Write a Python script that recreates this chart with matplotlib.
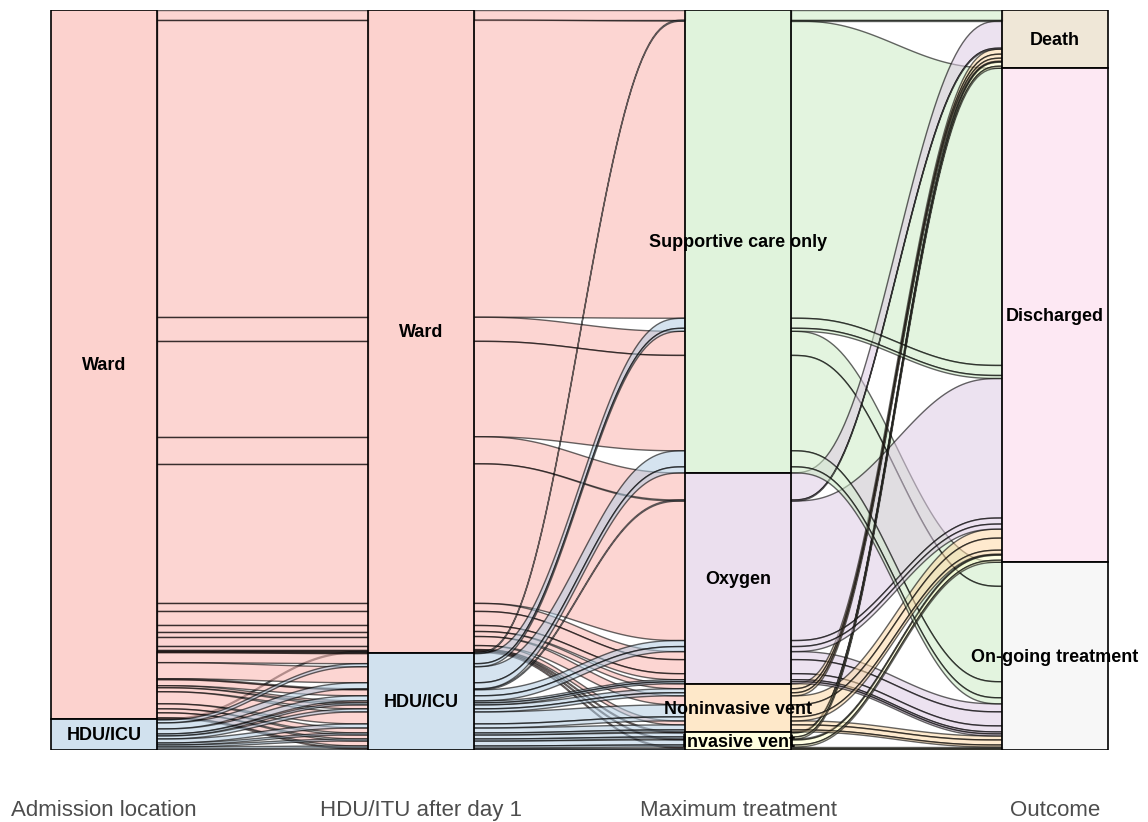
import matplotlib.pyplot as plt
from matplotlib.patches import Polygon, Rectangle
from matplotlib.colors import to_rgba
import numpy as np

plt.rcParams['font.family'] = ['Liberation Sans', 'DejaVu Sans']

axis_names = ['Admission location', 'HDU/ITU after day 1', 'Maximum treatment', 'Outcome']
levels = [
    ['Ward', 'HDU/ICU'],
    ['Ward', 'HDU/ICU'],
    ['Supportive care only', 'Oxygen', 'Noninvasive vent', 'Invasive vent'],
    ['Death', 'Discharged', 'On-going treatment'],
]
# Pastel1 palette, one colour per stratum
colours = {
    'Ward': '#FBB4AE', 'HDU/ICU': '#B3CDE3',
    'Supportive care only': '#CCEBC5', 'Oxygen': '#DECBE4',
    'Noninvasive vent': '#FED9A6', 'Invasive vent': '#FFFFCC',
    'Death': '#E5D8BD', 'Discharged': '#FDDAEC', 'On-going treatment': '#F2F2F2',
}

# one row per alluvium (patient pathway) with its count
adm = ['Ward'] * 14 + ['HDU/ICU'] + ['Ward'] * 12 + ['HDU/ICU'] * 10
hdu = ['Ward'] * 15 + ['HDU/ICU'] * 22
treat = ['Supportive care only'] * 4 + ['Oxygen'] * 5 + ['Noninvasive vent'] * 3 + ['Invasive vent'] * 2 \
    + ['Invasive vent'] \
    + ['Supportive care only'] * 3 + ['Oxygen'] * 3 + ['Noninvasive vent'] * 3 + ['Invasive vent'] * 3 \
    + ['Supportive care only'] * 2 + ['Oxygen'] * 2 + ['Noninvasive vent'] * 3 + ['Invasive vent'] * 3
outcome = ['Death', 'Discharged', 'On-going treatment', 'On-going treatment',
           'Death', 'Discharged', 'On-going treatment', 'On-going treatment', 'On-going treatment',
           'Death', 'Discharged', 'On-going treatment',
           'Death', 'Discharged',
           'On-going treatment',
           'Death', 'Discharged', 'On-going treatment',
           'Death', 'Discharged', 'On-going treatment',
           'Death', 'Discharged', 'On-going treatment',
           'Death', 'Discharged', 'On-going treatment',
           'Discharged', 'On-going treatment',
           'Discharged', 'On-going treatment',
           'Death', 'Discharged', 'On-going treatment',
           'Death', 'Discharged', 'On-going treatment']
n = [10, 296, 24, 95,
     27, 139, 8, 14, 6,
     5, 9, 4,
     1, 1,
     1,
     1, 10, 16,
     1, 6, 2,
     4, 12, 5,
     4, 5, 1,
     3, 6,
     5, 2,
     3, 4, 2,
     2, 2, 1]

paths = list(zip(adm, hdu, treat, outcome))
codes = [[levels[a].index(p[a]) for a in range(4)] for p in paths]
total = sum(n)

# "frontback" lode guidance: order lodes at each axis
guidance = [(0, 1, 2, 3), (1, 2, 3, 0), (2, 3, 1, 0), (3, 2, 1, 0)]
tops = np.zeros((4, len(n)))
for a in range(4):
    order = sorted(range(len(n)), key=lambda k: tuple(codes[k][j] for j in guidance[a]) + (k,))
    pos = 0
    for k in order:
        tops[a, k] = pos
        pos += n[k]

w = 1 / 3
fig = plt.figure(figsize=(11.48, 8.22), dpi=100)
ax = fig.add_axes([0, 72 / 822, 1, 740 / 822])

t = np.linspace(0, 1, 60)
f = 6 * t**5 - 15 * t**4 + 10 * t**3
for a in range(3):
    x0, x1 = a + 1 + w / 2, a + 2 - w / 2
    xs = x0 + (x1 - x0) * t
    for k in range(len(n)):
        top = tops[a, k] + (tops[a + 1, k] - tops[a, k]) * f
        bot = top + n[k]
        verts = np.column_stack([np.r_[xs, xs[::-1]], np.r_[top, bot[::-1]]])
        ax.add_patch(Polygon(verts, closed=True,
                             facecolor=to_rgba(colours[paths[k][a]], 0.55),
                             edgecolor=to_rgba('black', 0.6), linewidth=1.0))

for a in range(4):
    pos = 0
    for s in levels[a]:
        h = sum(n[k] for k in range(len(n)) if paths[k][a] == s)
        ax.add_patch(Rectangle((a + 1 - w / 2, pos), w, h,
                               facecolor=to_rgba(colours[s], 0.6),
                               edgecolor='black', linewidth=1.2))
        ax.text(a + 1, pos + h / 2 + 1.5, s, ha='center', va='center',
                fontsize=13, fontweight='bold', color='black')
        pos += h

ax.set_xlim(1 - 104 / 317, 4 + 93 / 317)
ax.set_ylim(total, 0)
ax.set_xticks([1, 2, 3, 4])
ax.set_xticklabels(axis_names, fontsize=16, color='#4D4D4D')
ax.tick_params(axis='x', length=0, pad=36)
ax.set_yticks([])
for sp in ax.spines.values():
    sp.set_visible(False)

fig.savefig('out.png', dpi=100)
